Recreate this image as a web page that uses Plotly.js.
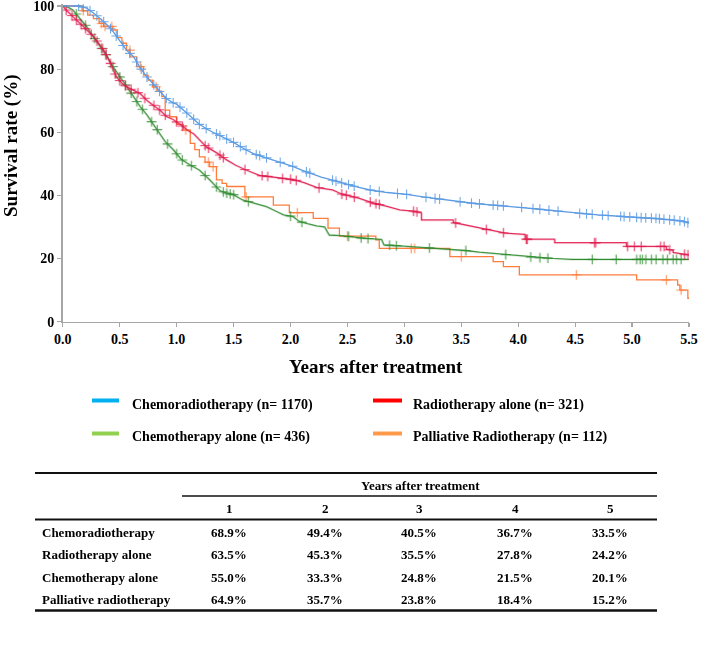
<!DOCTYPE html>
<html>
<head>
<meta charset="utf-8">
<script src="https://cdn.plot.ly/plotly-3.0.1.min.js"></script>
<style>
  html, body { margin: 0; padding: 0; background: #fff; }
  #chart { width: 709px; height: 655px; }
</style>
</head>
<body>
<div id="chart"></div>
<script>
// survival curves: years after treatment -> survival (%)
const crtYears = [0, 0.15, 0.21, 0.27, 0.33, 0.39, 0.44, 0.5, 0.56, 0.62, 0.68, 0.74, 0.8, 0.86, 0.91, 0.97, 1.0, 1.1, 1.2, 1.28, 1.35, 1.42, 1.5, 1.58, 1.67, 1.76, 1.85, 1.93, 2.02, 2.1, 2.17, 2.27, 2.37, 2.44, 2.52, 2.6, 2.7, 2.85, 3.02, 3.15, 3.31, 3.45, 3.6, 3.75, 3.9, 4.05, 4.19, 4.35, 4.54, 4.7, 4.92, 5.05, 5.21, 5.35, 5.45, 5.5];
const crtSurv = [100, 100, 99.3, 97.8, 96, 94, 92, 89, 86, 84, 80.5, 77.5, 75, 72.5, 70.7, 69.3, 68.9, 65.8, 62.5, 60.7, 59.5, 58.2, 56.8, 55, 53.3, 52.2, 51.2, 50.2, 49.2, 48, 47, 45.8, 44.8, 44, 43.3, 42.5, 41.7, 40.9, 40.3, 39.6, 38.8, 38.1, 37.5, 37, 36.6, 36.1, 35.6, 35, 34.3, 33.8, 33.3, 33, 32.7, 32.2, 31.8, 31.2];
const crtCensor = [0.14, 0.18, 0.24, 0.3, 0.36, 0.42, 0.47, 0.53, 0.59, 0.65, 0.69, 0.74, 0.8, 0.85, 0.91, 0.97, 1.03, 1.09, 1.15, 1.2, 1.26, 1.35, 1.38, 1.44, 1.5, 1.56, 1.61, 1.7, 1.73, 1.79, 1.91, 2.02, 2.14, 2.17, 2.37, 2.4, 2.45, 2.51, 2.56, 2.7, 2.78, 2.94, 3.02, 3.19, 3.27, 3.31, 3.49, 3.59, 3.66, 3.78, 3.82, 3.87, 4.03, 4.13, 4.19, 4.27, 4.35, 4.54, 4.6, 4.65, 4.74, 4.79, 4.9, 4.93, 4.98, 5.04, 5.08, 5.12, 5.17, 5.21, 5.24, 5.28, 5.33, 5.37, 5.42, 5.46, 5.49];

const rtYears = [0, 0.03, 0.09, 0.18, 0.27, 0.36, 0.42, 0.47, 0.52, 0.56, 0.62, 0.68, 0.74, 0.8, 0.86, 0.91, 0.97, 1.03, 1.1, 1.15, 1.2, 1.26, 1.35, 1.44, 1.52, 1.61, 1.73, 1.9, 2.02, 2.12, 2.23, 2.37, 2.45, 2.6, 2.73, 2.85, 2.96, 3.08, 3.15, 3.15, 3.43, 3.43, 3.6, 3.72, 3.89, 4.06, 4.06, 4.32, 4.32, 4.95, 4.95, 5.3, 5.3, 5.36, 5.36, 5.5];
const rtSurv = [100, 98.7, 96.6, 93.5, 90.3, 86, 81.8, 77.6, 75.5, 74.4, 73.2, 72.2, 70, 68.5, 66.8, 65, 64, 62.5, 60.5, 59.5, 57.5, 55.4, 53.5, 51.2, 49.5, 48, 46.3, 45.5, 45, 44, 42.5, 41.7, 40.4, 39.1, 37.5, 36.5, 35.4, 35, 34.4, 32.2, 32.2, 31.4, 30.2, 29.2, 28, 27.6, 26.1, 26.1, 25, 25, 23.8, 23.8, 22.9, 22.6, 21.9, 21.1];
const rtCensor = [0.03, 0.08, 0.12, 0.16, 0.2, 0.25, 0.3, 0.35, 0.38, 0.42, 0.46, 0.5, 0.55, 0.6, 0.66, 0.72, 0.8, 0.85, 0.9, 1.0, 1.05, 1.25, 1.28, 1.38, 1.41, 1.6, 1.75, 1.8, 1.93, 2.0, 2.05, 2.25, 2.45, 2.49, 2.56, 2.7, 2.75, 2.78, 3.08, 3.11, 3.45, 3.72, 3.87, 4.07, 4.08, 4.67, 4.68, 4.96, 5.02, 5.08, 5.25, 5.28, 5.33, 5.46, 5.49];

const ctYears = [0, 0.05, 0.09, 0.15, 0.21, 0.27, 0.33, 0.39, 0.44, 0.5, 0.56, 0.62, 0.68, 0.74, 0.79, 0.85, 0.9, 0.97, 1.04, 1.12, 1.2, 1.29, 1.34, 1.38, 1.44, 1.5, 1.58, 1.67, 1.79, 1.87, 1.94, 2.02, 2.08, 2.15, 2.23, 2.3, 2.34, 2.45, 2.64, 2.8, 2.82, 3.0, 3.16, 3.35, 3.54, 3.66, 3.78, 3.9, 4.07, 4.2, 4.3, 4.48, 5.5];
const ctSurv = [100, 99.5, 98.7, 96.2, 93.4, 90.2, 87.1, 84, 80.8, 77.5, 74.5, 71.3, 68.1, 65.5, 62.8, 59.8, 57, 54.5, 51.4, 49.6, 48, 44.9, 43, 41.5, 40.7, 40.2, 38.5, 37.6, 36.4, 35, 33.8, 33.3, 31.7, 31, 30.3, 30, 27.4, 27.2, 26.4, 26, 24.3, 23.9, 23.5, 23, 22.5, 22, 21.6, 21.2, 20.6, 20.2, 20, 19.7, 19.7];
const ctCensor = [0.12, 0.2, 0.28, 0.34, 0.38, 0.44, 0.5, 0.55, 0.6, 0.65, 0.7, 0.78, 0.83, 0.92, 1.0, 1.05, 1.13, 1.25, 1.35, 1.41, 1.44, 1.47, 1.5, 1.63, 2.0, 2.1, 2.51, 2.62, 2.68, 2.87, 2.93, 3.22, 3.54, 3.89, 4.11, 4.19, 4.26, 4.65, 4.86, 5.04, 5.07, 5.09, 5.12, 5.17, 5.21, 5.27, 5.31, 5.36, 5.39, 5.43];

// palliative RT is a coarse step function (n is small)
const prtYears = [0, 0.17, 0.22, 0.27, 0.32, 0.36, 0.44, 0.48, 0.52, 0.56, 0.59, 0.65, 0.71, 0.75, 0.79, 0.83, 0.87, 0.9, 0.94, 1.0, 1.06, 1.12, 1.16, 1.2, 1.25, 1.29, 1.35, 1.4, 1.44, 1.6, 1.85, 1.99, 2.2, 2.33, 2.43, 2.75, 2.78, 3.4, 3.78, 3.87, 4.01, 5.04, 5.4, 5.42, 5.49, 5.5];
const prtSurv = [100, 98.5, 97.1, 96, 94.5, 93.5, 92.4, 90, 88.2, 86, 83.9, 80.8, 78.1, 76.5, 74.4, 73, 71.3, 67, 64.9, 62.5, 60.7, 56.5, 54.5, 52.2, 50.5, 49.1, 44.9, 43.8, 42.8, 39.5, 36.9, 34.5, 32.7, 29.6, 27.1, 25.9, 23.2, 20.6, 19, 17.4, 14.8, 13.2, 11.6, 10, 7.4, 7.4];
const prtCensor = [0.18, 0.34, 0.37, 0.43, 0.59, 0.68, 0.82, 1.08, 1.28, 1.32, 1.61, 2.06, 2.5, 3.06, 3.09, 3.5, 4.51, 5.3, 5.43];

const curveColors = ['#5b9be3', '#e0184c', '#2e8b2e', '#ff7d3c'];
const legendNames = ['Chemoradiotherapy (n= 1170)', 'Radiotherapy alone (n= 321)', 'Chemotherapy alone (n= 436)', 'Palliative Radiotherapy (n= 112)'];
const legendColors = ['#00b0f0', '#ff0000', '#92d050', '#ff9a4d'];

// survival table under the plot
const tableTitle = 'Years after treatment';
const tableYears = ['1', '2', '3', '4', '5'];
const tableRows = ['Chemoradiotherapy', 'Radiotherapy alone', 'Chemotherapy alone', 'Palliative radiotherapy'];
const crtRates = ['68.9%', '49.4%', '40.5%', '36.7%', '33.5%'];
const rtRates = ['63.5%', '45.3%', '35.5%', '27.8%', '24.2%'];
const ctRates = ['55.0%', '33.3%', '24.8%', '21.5%', '20.1%'];
const prtRates = ['64.9%', '35.7%', '23.8%', '18.4%', '15.2%'];

const W = 709, H = 655;
const FONT = 'Liberation Serif, "Times New Roman", serif';
const px = (x) => x / W;
const py = (y) => 1 - y / H;

// where a censor tick sits on its curve
function survAt (xs, ys, t, step) {
  for (let i = 1; i < xs.length; i++) {
    if (t <= xs[i]) {
      if (step || xs[i] === xs[i - 1]) return ys[i - 1];
      const f = (t - xs[i - 1]) / (xs[i] - xs[i - 1]);
      return ys[i - 1] + f * (ys[i] - ys[i - 1]);
    }
  }
  return ys[ys.length - 1];
}

const groups = [
  { x: crtYears, y: crtSurv, c: crtCensor, step: false },
  { x: rtYears, y: rtSurv, c: rtCensor, step: false },
  { x: ctYears, y: ctSurv, c: ctCensor, step: false },
  { x: prtYears, y: prtSurv, c: prtCensor, step: true }
];

const traces = [];
// draw back to front like the original: orange, green, red, blue on top
[3, 2, 1, 0].forEach((g) => {
  const grp = groups[g];
  traces.push({
    type: 'scatter',
    mode: 'lines',
    x: grp.x,
    y: grp.y,
    line: { color: curveColors[g], width: 1.3, shape: grp.step ? 'hv' : 'linear' },
    hoverinfo: 'skip',
    showlegend: false
  });
  traces.push({
    type: 'scatter',
    mode: 'markers',
    x: grp.c,
    y: grp.c.map((t) => survAt(grp.x, grp.y, t, grp.step)),
    marker: { symbol: 'cross-thin', size: 7, line: { color: curveColors[g], width: 1.1 } },
    opacity: 0.85,
    hoverinfo: 'skip',
    showlegend: false
  });
});

const shapes = [];
const annotations = [];

// axis titles
annotations.push({
  xref: 'paper', yref: 'paper', x: px(376), y: py(367),
  text: 'Years after treatment', showarrow: false,
  xanchor: 'center', yanchor: 'middle',
  font: { family: FONT, size: 19, color: '#000', weight: 'bold' }
});
annotations.push({
  xref: 'paper', yref: 'paper', x: px(11), y: py(146),
  text: 'Survival rate (%)', showarrow: false, textangle: -90,
  xanchor: 'center', yanchor: 'middle',
  font: { family: FONT, size: 19, color: '#000', weight: 'bold' }
});

// legend, two columns
const legX = [[92, 119, 130], [373, 402, 411]];
const legY = [[400.5, 405], [433.5, 437.5]];
legendNames.forEach((name, i) => {
  const col = i % 2;
  const row = Math.floor(i / 2);
  shapes.push({
    type: 'line', xref: 'paper', yref: 'paper',
    x0: px(legX[col][0]), x1: px(legX[col][1]), y0: py(legY[row][0]), y1: py(legY[row][0]),
    line: { color: legendColors[i], width: 4 }
  });
  annotations.push({
    xref: 'paper', yref: 'paper', x: px(legX[col][2]), y: py(legY[row][1]),
    text: name, showarrow: false, xanchor: 'left', yanchor: 'middle',
    font: { family: FONT, size: 14, color: '#000', weight: 'bold' }
  });
});

// table rules
const tblL = 35, tblR = 657;
const hline = (x0, x1, y, w) => shapes.push({
  type: 'line', xref: 'paper', yref: 'paper',
  x0: px(x0), x1: px(x1), y0: py(y), y1: py(y),
  line: { color: '#111', width: w }
});
hline(tblL, tblR, 473, 2.2);
hline(182, tblR, 496, 1.3);
hline(tblL, tblR, 519.5, 2.2);
hline(tblL, tblR, 610.5, 2.6);

const tFont = { family: FONT, size: 13, color: '#000', weight: 'bold' };
const colX = [229, 325, 419, 515, 610];
const rowY = [532, 554.5, 577, 599.5];
annotations.push({
  xref: 'paper', yref: 'paper', x: px(420), y: py(485),
  text: tableTitle, showarrow: false, xanchor: 'center', yanchor: 'middle', font: tFont
});
tableYears.forEach((yr, j) => {
  annotations.push({
    xref: 'paper', yref: 'paper', x: px(colX[j]), y: py(508),
    text: yr, showarrow: false, xanchor: 'center', yanchor: 'middle', font: tFont
  });
});
[crtRates, rtRates, ctRates, prtRates].forEach((rates, i) => {
  annotations.push({
    xref: 'paper', yref: 'paper', x: px(40), y: py(rowY[i]),
    text: tableRows[i], showarrow: false, xanchor: 'left', yanchor: 'middle', font: tFont
  });
  rates.forEach((v, j) => {
    annotations.push({
      xref: 'paper', yref: 'paper', x: px(colX[j]), y: py(rowY[i]),
      text: v, showarrow: false, xanchor: 'center', yanchor: 'middle', font: tFont
    });
  });
});

const axisCommon = {
  showgrid: false,
  zeroline: false,
  showline: true,
  linecolor: '#a6a6a6',
  linewidth: 1.6,
  ticks: 'outside',
  ticklen: 4,
  tickwidth: 1.2,
  tickcolor: '#a6a6a6',
  ticklabeloverflow: 'allow',
  fixedrange: true
};

const layout = {
  width: W,
  height: H,
  margin: { l: 0, r: 0, t: 0, b: 0 },
  paper_bgcolor: '#fff',
  plot_bgcolor: '#fff',
  showlegend: false,
  xaxis: Object.assign({}, axisCommon, {
    domain: [px(62.7), px(689)],
    range: [0, 5.5],
    dtick: 0.5,
    tick0: 0,
    tickformat: '.1f',
    tickfont: { family: FONT, size: 14, color: '#000', weight: 'bold' }
  }),
  yaxis: Object.assign({}, axisCommon, {
    domain: [py(321.6), py(4.1)],
    range: [0, 100.6],
    tickvals: [0, 20, 40, 60, 80, 100],
    tickfont: { family: FONT, size: 14, color: '#000', weight: 'bold' }
  }),
  shapes,
  annotations
};

Plotly.newPlot('chart', traces, layout, { displayModeBar: false, staticPlot: true });
</script>
</body>
</html>
